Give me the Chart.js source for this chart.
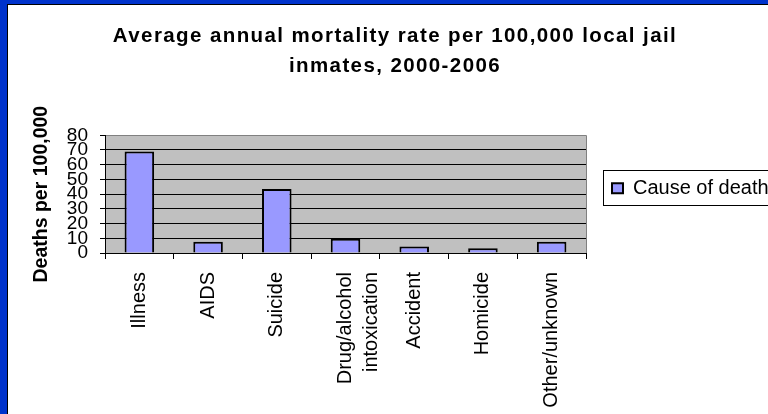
<!DOCTYPE html>
<html>
<head>
<meta charset="utf-8">
<script src="https://cdn.jsdelivr.net/npm/chart.js@4.4.1/dist/chart.umd.min.js"></script>
<style>
  html, body { margin: 0; padding: 0; background: #ffffff; overflow: hidden; }
  canvas { display: block; }
</style>
</head>
<body>
<canvas id="c" width="768" height="414"></canvas>
<script>
// ---- data ----
const titleLines = ['Average annual mortality rate per 100,000 local jail', 'inmates, 2000-2006'];
const categories = ['Illness', 'AIDS', 'Suicide', ['Drug/alcohol', 'intoxication'], 'Accident', 'Homicide', 'Other/unknown'];
const deathRates = [69, 7.6, 43.5, 9.7, 4.4, 3.3, 7.6];
const seriesLabel = 'Cause of death';
const yAxisTitle = 'Deaths per 100,000';
const yMin = 0;
const yMax = 80;
const yStep = 10;

const FONT = "'Liberation Sans', Arial, sans-serif";

const decorPlugin = {
  id: 'decor',
  beforeDraw(chart) {
    const tb = chart.titleBlock;
    if (tb && !tb.__ls) {
      const orig = tb.draw;
      tb.draw = function (...a) {
        const c = this.ctx;
        c.save();
        if ('letterSpacing' in c) c.letterSpacing = '1.4px';
        orig.apply(this, a);
        c.restore();
      };
      tb.__ls = true;
    }
    const ctx = chart.ctx;
    const W = chart.width, H = chart.height;
    ctx.save();
    ctx.fillStyle = '#ffffff';
    ctx.fillRect(0, 0, W, H);
    ctx.fillStyle = '#0033CC';
    ctx.fillRect(0, 0, 7, H);
    ctx.fillRect(0, 0, W, 4);
    ctx.fillStyle = '#000000';
    ctx.fillRect(7, 4, 1, H - 4);
    ctx.fillRect(7, 4, W - 7, 1);
    const a = chart.chartArea;
    ctx.fillStyle = '#C0C0C0';
    ctx.fillRect(a.left, a.top, a.right - a.left, a.bottom - a.top);
    ctx.restore();
  },
  beforeDatasetsDraw(chart) {
    const ctx = chart.ctx;
    const a = chart.chartArea;
    ctx.save();
    ctx.strokeStyle = '#808080';
    ctx.lineWidth = 1;
    ctx.beginPath();
    const x = Math.round(a.right) + 0.5;
    ctx.moveTo(x, a.top);
    ctx.lineTo(x, a.bottom);
    ctx.stroke();
    ctx.restore();
  },
  afterDraw(chart) {
    const lg = chart.legend;
    if (!lg || !lg.legendHitBoxes || !lg.legendHitBoxes.length) return;
    const hb = lg.legendHitBoxes[0];
    const ctx = chart.ctx;
    const cy = hb.top + hb.height / 2;
    const left = Math.round(hb.left - 9) + 0.5;
    const top = Math.round(cy - 18) + 0.5;
    ctx.save();
    ctx.strokeStyle = '#000000';
    ctx.lineWidth = 1;
    ctx.strokeRect(left, top, chart.width + 20 - left, 35);
    ctx.restore();
  }
};

new Chart(document.getElementById('c'), {
  type: 'bar',
  data: {
    labels: categories,
    datasets: [{
      label: seriesLabel,
      data: deathRates,
      backgroundColor: '#9999FF',
      borderColor: '#000000',
      borderWidth: 2,
      barPercentage: 0.43,
      categoryPercentage: 1
    }]
  },
  options: {
    responsive: false,
    animation: false,
    layout: { padding: { left: 22, right: 0, top: 0, bottom: 0 } },
    plugins: {
      title: {
        display: true,
        text: titleLines,
        color: '#000000',
        font: { family: FONT, size: 20.5, weight: 'bold', lineHeight: 1.47 },
        padding: { top: 21, bottom: 54 }
      },
      legend: {
        display: true,
        position: 'right',
        fullSize: false,
        align: 'start',
        maxWidth: 182,
        title: { display: true, text: '', font: { size: 10, lineHeight: 1 }, padding: { top: 7, bottom: 0 } },
        labels: {
          boxWidth: 11,
          boxHeight: 10,
          padding: 26,
          color: '#000000',
          font: { family: FONT, size: 20 }
        }
      },
      tooltip: { enabled: false }
    },
    scales: {
      x: {
        type: 'category',
        offset: true,
        grid: { display: true, drawOnChartArea: false, drawTicks: true, tickLength: 6, color: '#000000', offset: true },
        border: { display: true, color: '#000000', width: 1 },
        ticks: {
          autoSkip: false,
          minRotation: 90,
          maxRotation: 90,
          padding: 13,
          color: '#000000',
          font: { family: FONT, size: 20, lineHeight: 1.3 },
          labelOffset: (c) => Array.isArray(categories[c.index]) ? -13 : 0
        },
        afterFit: (s) => { s.height = 161; }
      },
      y: {
        min: yMin,
        max: yMax,
        ticks: {
          stepSize: yStep,
          autoSkip: false,
          padding: 12,
          color: '#000000',
          font: { family: FONT, size: 19, lineHeight: 1 }
        },
        grid: {
          color: (c) => (c.tick && c.tick.value === yMax) ? '#808080' : '#000000',
          tickColor: '#000000',
          tickLength: 5,
          lineWidth: 1
        },
        border: { display: true, color: '#000000', width: 1 },
        title: {
          display: true,
          text: yAxisTitle,
          color: '#000000',
          font: { family: FONT, size: 19.5, weight: 'bold', lineHeight: 1.2 },
          padding: { top: 8, bottom: 0 }
        },
        afterFit: (s) => { s.width = 83; }
      }
    }
  },
  plugins: [decorPlugin]
});
</script>
</body>
</html>
